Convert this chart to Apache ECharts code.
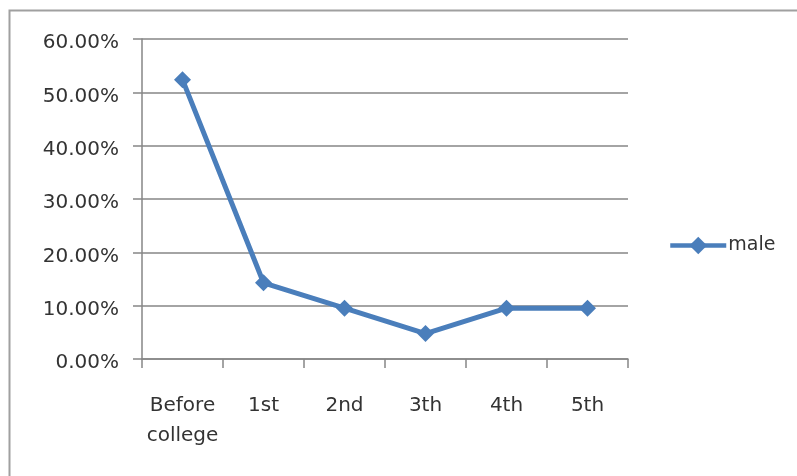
<!DOCTYPE html>
<html>
<head>
<meta charset="utf-8">
<script src="https://cdn.jsdelivr.net/npm/echarts@6/dist/echarts.min.js"></script>
<style>
  html, body { margin: 0; padding: 0; background: #fff; }
  #chart { width: 797px; height: 476px; }
</style>
</head>
<body>
<div id="chart"></div>
<script>
// Share of male respondents by the year they started
const categories = ['Before\ncollege', '1st', '2nd', '3th', '4th', '5th'];
const maleShare = [52.38, 14.29, 9.52, 4.76, 9.52, 9.52];
const seriesName = 'male';

const textFont = 'DejaVu Sans';
const textColor = '#333';
const lineColor = '#4A7EBB';
const gridGray = '#868686';

const chart = echarts.init(document.getElementById('chart'), null, { renderer: 'canvas' });

chart.setOption({
  backgroundColor: '#fff',
  animation: false,
  graphic: [{
    type: 'rect',
    shape: { x: 9.5, y: 10.5, width: 820, height: 500 },
    style: { fill: 'none', stroke: '#a0a0a0', lineWidth: 2 },
    silent: true
  }],
  grid: { left: 142, right: 169, top: 39, bottom: 117, containLabel: false },
  legend: {
    data: [seriesName],
    left: 668,
    top: 236,
    padding: 0,
    itemWidth: 56,
    itemHeight: 22,
    itemGap: 4,
    lineStyle: { width: 4.5 },
    textStyle: { fontFamily: textFont, fontSize: 19, color: textColor, padding: [0, 0, 0, -3] }
  },
  xAxis: {
    type: 'category',
    data: categories,
    boundaryGap: true,
    axisLine: { lineStyle: { color: gridGray, width: 1.5 } },
    axisTick: { show: true, interval: 0, length: 9, lineStyle: { color: gridGray, width: 1.5 } },
    axisLabel: {
      interval: 0,
      fontFamily: textFont, fontSize: 20, color: textColor,
      margin: 32, lineHeight: 30, align: 'center'
    }
  },
  yAxis: {
    type: 'value',
    min: 0,
    max: 60,
    interval: 10,
    axisLine: { show: true, lineStyle: { color: gridGray, width: 1.5 } },
    axisTick: { show: true, length: 9, lineStyle: { color: gridGray, width: 1.5 } },
    splitLine: { lineStyle: { color: gridGray, width: 1.5 } },
    axisLabel: {
      fontFamily: textFont, fontSize: 20, color: textColor, margin: 23,
      formatter: v => '{p|' + v.toFixed(2) + '%}',
      rich: {
        p: { fontFamily: textFont, fontSize: 20, color: textColor, lineHeight: 20, padding: [8, 0, 0, 0] }
      }
    }
  },
  series: [{
    name: seriesName,
    type: 'line',
    data: maleShare,
    symbol: 'diamond',
    symbolSize: 17,
    lineStyle: { color: lineColor, width: 5 },
    itemStyle: { color: lineColor },
    z: 3
  }]
});
</script>
</body>
</html>
